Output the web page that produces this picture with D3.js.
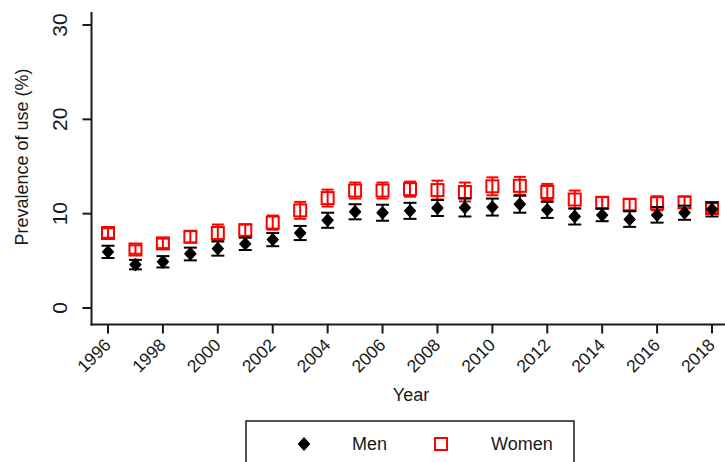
<!DOCTYPE html>
<html>
<head>
<meta charset="utf-8">
<script src="https://cdn.jsdelivr.net/npm/d3@7"></script>
<style>
  html, body { margin: 0; padding: 0; background: #fff; }
  svg { display: block; }
  text { font-family: "Liberation Sans", Arial, sans-serif; fill: #1a1a1a; }
</style>
</head>
<body>
<script>
// ---- data ----
const years = [1996,1997,1998,1999,2000,2001,2002,2003,2004,2005,2006,2007,2008,2009,2010,2011,2012,2013,2014,2015,2016,2017,2018];
const menValues   = [5.95,4.6,4.9,5.75,6.3,6.8,7.25,7.95,9.3,10.2,10.1,10.3,10.6,10.65,10.7,11.0,10.4,9.7,9.85,9.4,9.85,10.1,10.45];
const menLower    = [5.3,4.1,4.3,5.05,5.55,6.15,6.55,7.2,8.5,9.4,9.25,9.45,9.75,9.7,9.8,10.1,9.55,8.85,9.2,8.6,9.05,9.35,9.7];
const menUpper    = [6.6,5.1,5.5,6.4,7.05,7.45,7.95,8.7,10.1,11.0,10.95,11.15,11.45,11.6,11.6,11.9,11.25,10.55,10.55,10.25,10.7,10.85,11.2];
const womenValues = [7.95,6.2,6.85,7.55,7.95,8.25,9.05,10.35,11.65,12.45,12.45,12.6,12.5,12.3,12.9,12.95,12.3,11.5,11.15,10.95,11.1,11.2,10.6];
const womenLower  = [7.45,5.75,6.35,6.95,7.1,7.65,8.3,9.45,10.75,11.6,11.6,11.8,11.5,11.3,11.95,12.0,11.45,10.55,10.55,10.35,10.35,10.6,10.1];
const womenUpper  = [8.45,6.65,7.35,8.15,8.85,8.85,9.8,11.25,12.55,13.3,13.3,13.4,13.5,13.3,13.85,13.9,13.15,12.45,11.75,11.55,11.85,11.8,11.1];
const xTicks = [1996,1998,2000,2002,2004,2006,2008,2010,2012,2014,2016,2018];
const yTicks = [0,10,20,30];
const seriesNames = ["Men","Women"];
const xTitle = "Year";
const yTitle = "Prevalence of use (%)";

// ---- chart ----
const W = 725, H = 462;
const svg = d3.select("body").append("svg").attr("width", W).attr("height", H);

const x = d3.scaleLinear().domain([1996, 2018]).range([108, 712]);
const y = d3.scaleLinear().domain([0, 30]).range([308, 25]);
const axisX = 91.5, axisY = 324.5;
const axisColor = "#1a1a1a";

// y axis
svg.append("line").attr("x1", axisX).attr("x2", axisX).attr("y1", 12).attr("y2", axisY + 1)
  .attr("stroke", axisColor).attr("stroke-width", 2);
yTicks.forEach(t => {
  svg.append("line").attr("x1", axisX - 9).attr("x2", axisX).attr("y1", y(t)).attr("y2", y(t))
    .attr("stroke", axisColor).attr("stroke-width", 2);
  svg.append("text").attr("transform", `translate(67,${y(t)}) rotate(-90)`)
    .attr("text-anchor", "middle").attr("font-size", 21).text(t);
});
svg.append("text").attr("transform", `translate(28,157) rotate(-90)`)
  .attr("text-anchor", "middle").attr("font-size", 18).text(yTitle);

// x axis
svg.append("line").attr("x1", axisX - 1).attr("x2", W).attr("y1", axisY).attr("y2", axisY)
  .attr("stroke", axisColor).attr("stroke-width", 2);
xTicks.forEach(t => {
  svg.append("line").attr("x1", x(t)).attr("x2", x(t)).attr("y1", axisY).attr("y2", axisY + 9)
    .attr("stroke", axisColor).attr("stroke-width", 2);
  svg.append("text").attr("transform", `translate(${x(t) + 4},346) rotate(-45)`)
    .attr("text-anchor", "end").attr("font-size", 17.5).text(t);
});
svg.append("text").attr("x", 411).attr("y", 401).attr("text-anchor", "middle")
  .attr("font-size", 18).text(xTitle);

const diamond = (cx, cy, r) => `M${cx},${cy - r}L${cx + r * 0.92},${cy}L${cx},${cy + r}L${cx - r * 0.92},${cy}Z`;

// women error bars + markers (drawn first, men on top)
const gWomen = svg.append("g");
years.forEach((yr, i) => {
  const cx = x(yr);
  gWomen.append("line").attr("x1", cx).attr("x2", cx).attr("y1", y(womenLower[i])).attr("y2", y(womenUpper[i]))
    .attr("stroke", "#ff0000").attr("stroke-width", 2);
  [womenLower[i], womenUpper[i]].forEach(v => {
    gWomen.append("line").attr("x1", cx - 6).attr("x2", cx + 6).attr("y1", y(v)).attr("y2", y(v))
      .attr("stroke", "#ff0000").attr("stroke-width", 2);
  });
  gWomen.append("rect").attr("x", cx - 6).attr("y", y(womenValues[i]) - 6).attr("width", 12).attr("height", 12)
    .attr("fill", "none").attr("stroke", "#ff0000").attr("stroke-width", 2);
});

// men error bars + markers
const gMen = svg.append("g");
years.forEach((yr, i) => {
  const cx = x(yr);
  gMen.append("line").attr("x1", cx).attr("x2", cx).attr("y1", y(menLower[i])).attr("y2", y(menUpper[i]))
    .attr("stroke", "#000").attr("stroke-width", 2);
  [menLower[i], menUpper[i]].forEach(v => {
    gMen.append("line").attr("x1", cx - 6.5).attr("x2", cx + 6.5).attr("y1", y(v)).attr("y2", y(v))
      .attr("stroke", "#000").attr("stroke-width", 2);
  });
  gMen.append("path").attr("d", diamond(cx, y(menValues[i]), 6)).attr("fill", "#000")
    .attr("stroke", "#000").attr("stroke-width", 1.2).attr("stroke-linejoin", "round");
});

// legend
svg.append("rect").attr("x", 246).attr("y", 421).attr("width", 328).attr("height", 60)
  .attr("fill", "#fff").attr("stroke", "#1a1a1a").attr("stroke-width", 1.5);
svg.append("path").attr("d", diamond(304, 444, 6)).attr("fill", "#000").attr("stroke", "#000").attr("stroke-width", 1.2);
svg.append("text").attr("x", 352).attr("y", 450).attr("font-size", 18).text(seriesNames[0]);
svg.append("rect").attr("x", 435).attr("y", 438).attr("width", 12).attr("height", 12)
  .attr("fill", "none").attr("stroke", "#ff0000").attr("stroke-width", 2);
svg.append("text").attr("x", 491).attr("y", 450).attr("font-size", 18).text(seriesNames[1]);
</script>
</body>
</html>
